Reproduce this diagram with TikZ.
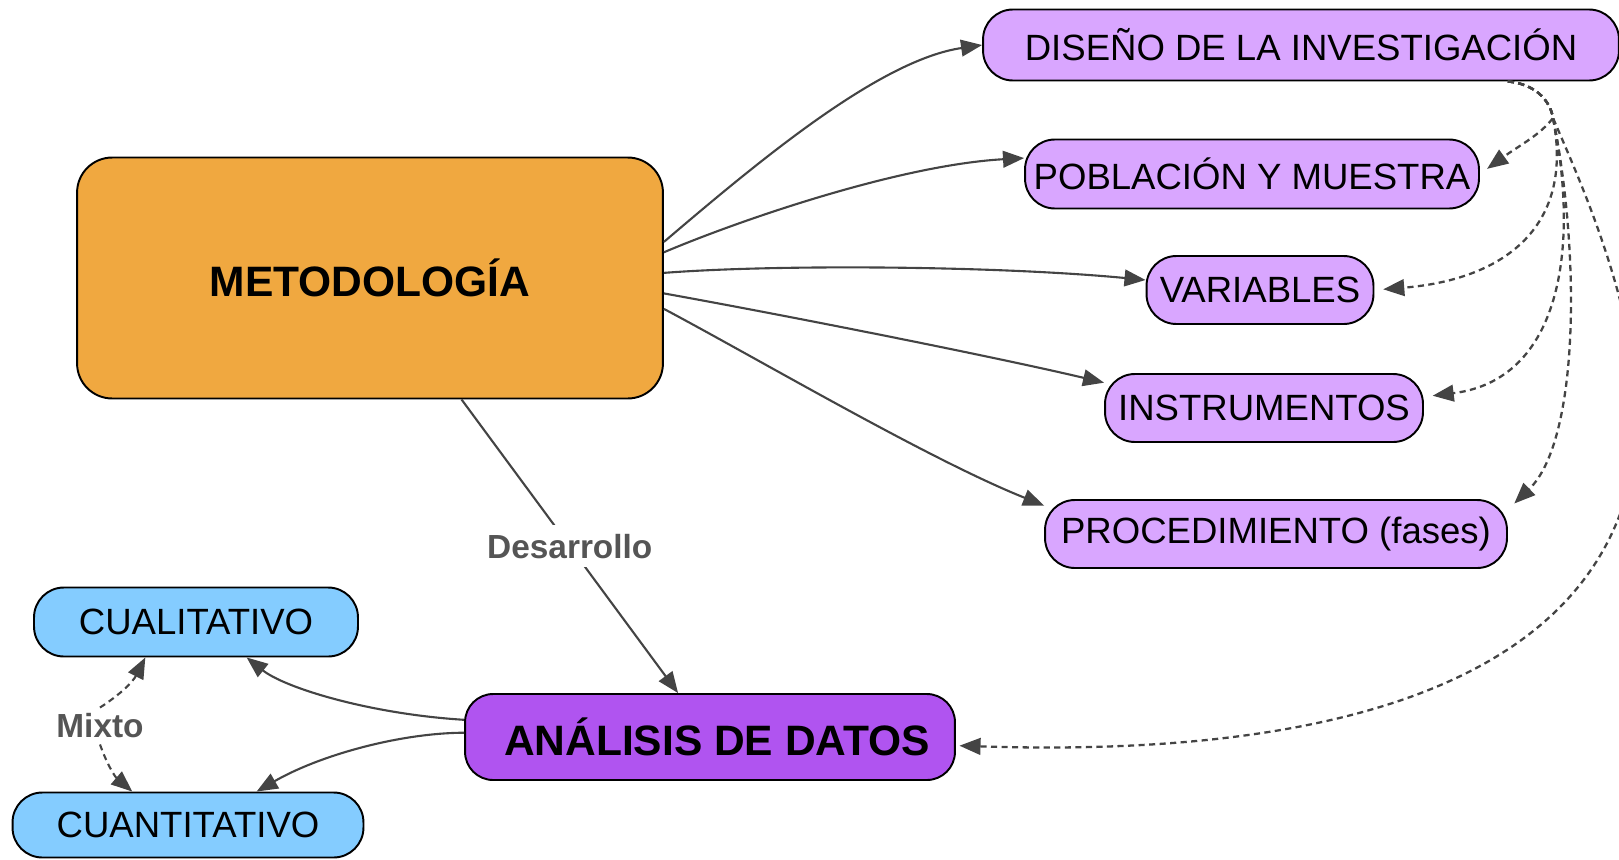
\documentclass[tikz,border=0pt]{standalone}
\usepackage{fontspec}
\setmainfont{Liberation Sans}
\usetikzlibrary{arrows.meta}
\definecolor{naranja}{HTML}{F0A840}
\definecolor{lila}{HTML}{D9A6FF}
\definecolor{morado}{HTML}{B054F0}
\definecolor{celeste}{HTML}{84CCFF}
\definecolor{gris}{HTML}{444444}
\definecolor{grislbl}{HTML}{555555}

\begin{document}
\begin{tikzpicture}[x=0.02cm, y=-0.02cm,
		caja/.style={draw=black, line width=1.1pt, rounded corners=17pt, inner sep=0pt, font=\fontsize{20.8}{25}\selectfont},
		flecha/.style={draw=gris, line width=1.2pt, -{Triangle[length=12pt,width=9.5pt]}},
		punteada/.style={flecha, line width=1.3pt, dash pattern=on 3.5pt off 2.5pt},
		etiqueta/.style={text=grislbl, font=\fontsize{19}{23}\selectfont\bfseries}]
		\useasboundingbox (0,0) rectangle (1619,859);
		\clip (0,0) rectangle (1619,859);
		% nodos
		\node[caja, fill=naranja, rounded corners=20pt, minimum width=11.72cm, minimum height=4.82cm, font=\fontsize{24.2}{29}\selectfont\bfseries] (met) at (370,278) {METODOLOGÍA};
		\node[caja, fill=lila, minimum width=12.72cm, minimum height=1.42cm] (dis) at (1301,45) {DISEÑO DE LA INVESTIGACIÓN};
		\node[caja, fill=lila, minimum width=9.08cm, minimum height=1.38cm] (pob) at (1252,174) {POBLACIÓN Y MUESTRA};
		\node[caja, fill=lila, minimum width=4.54cm, minimum height=1.36cm] (var) at (1260,290) {VARIABLES};
		\node[caja, fill=lila, minimum width=6.36cm, minimum height=1.36cm] (ins) at (1264,408) {INSTRUMENTOS};
		\node[caja, fill=lila, minimum width=9.24cm, minimum height=1.36cm] (pro) at (1276,534) {PROCEDIMIENTO (fases)};
		\node[caja, fill=morado, rounded corners=16pt, minimum width=9.8cm, minimum height=1.72cm, font=\fontsize{24.2}{29}\selectfont\bfseries] (ana) at (710,737) {\hspace*{8pt}ANÁLISIS DE DATOS};
		\node[caja, fill=celeste, minimum width=6.48cm, minimum height=1.38cm] (cual) at (196,622) {CUALITATIVO};
		\node[caja, fill=celeste, minimum width=7.02cm, minimum height=1.3cm] (cuan) at (188,825) {CUANTITATIVO};
		\node[etiqueta] (mix) at (100,726) {Mixto};
		% desde metodologia
		\draw[flecha] (met.7) .. controls (760,160) and (880,60) .. (dis.west);
		\draw[flecha] (met.5) .. controls (740,220) and (900,165) .. (pob.176);
		\draw[flecha] (met.1) .. controls (780,264) and (1000,266) .. (var.175);
		\draw[flecha] (met.-3) .. controls (800,318) and (1000,358) .. (ins.171);
		\draw[flecha] (met.-6) .. controls (760,360) and (930,460) .. (pro.173);
		\draw[flecha] (met.-53) -- node[etiqueta, fill=white, inner sep=5pt] {Desarrollo} (ana.126);
		% analisis
		\draw[flecha] (ana.176) .. controls (370,714) and (285,688) .. (cual.-35);
		\draw[flecha] (ana.179) .. controls (400,733) and (320,755) .. (cuan.26);
		\draw[punteada, line width=1.2pt] (mix.north) to[bend right=15] (cual.215);
		\draw[punteada, line width=1.2pt] (mix.south) to[bend right=15] (cuan.149);
		% desde diseno
		\coordinate (fork) at (1553,118);
		\coordinate (fuera) at (1638,420);
		\draw[punteada, shorten >=5pt] (dis.-10) .. controls (1535,84) and (1550,100) .. (fork) .. controls (1540,135) and (1520,145) .. (pob.east);
		\draw[punteada, shorten >=5pt] (dis.-10) .. controls (1535,84) and (1550,100) .. (fork) .. controls (1575,230) and (1500,280) .. (var.east);
		\draw[punteada, shorten >=5pt] (dis.-10) .. controls (1535,84) and (1550,100) .. (fork) .. controls (1580,250) and (1560,380) .. (ins.4);
		\draw[punteada, shorten >=5pt] (dis.-10) .. controls (1535,84) and (1550,100) .. (fork) .. controls (1580,250) and (1580,440) .. (pro.6);
		\draw[punteada, shorten >=2pt] (dis.-10) .. controls (1535,84) and (1550,100) .. (fork) .. controls (1575,170) and (1636,300) .. (fuera) .. controls (1630,650) and (1400,760) .. (ana.-2);
	\end{tikzpicture}
\end{document}
